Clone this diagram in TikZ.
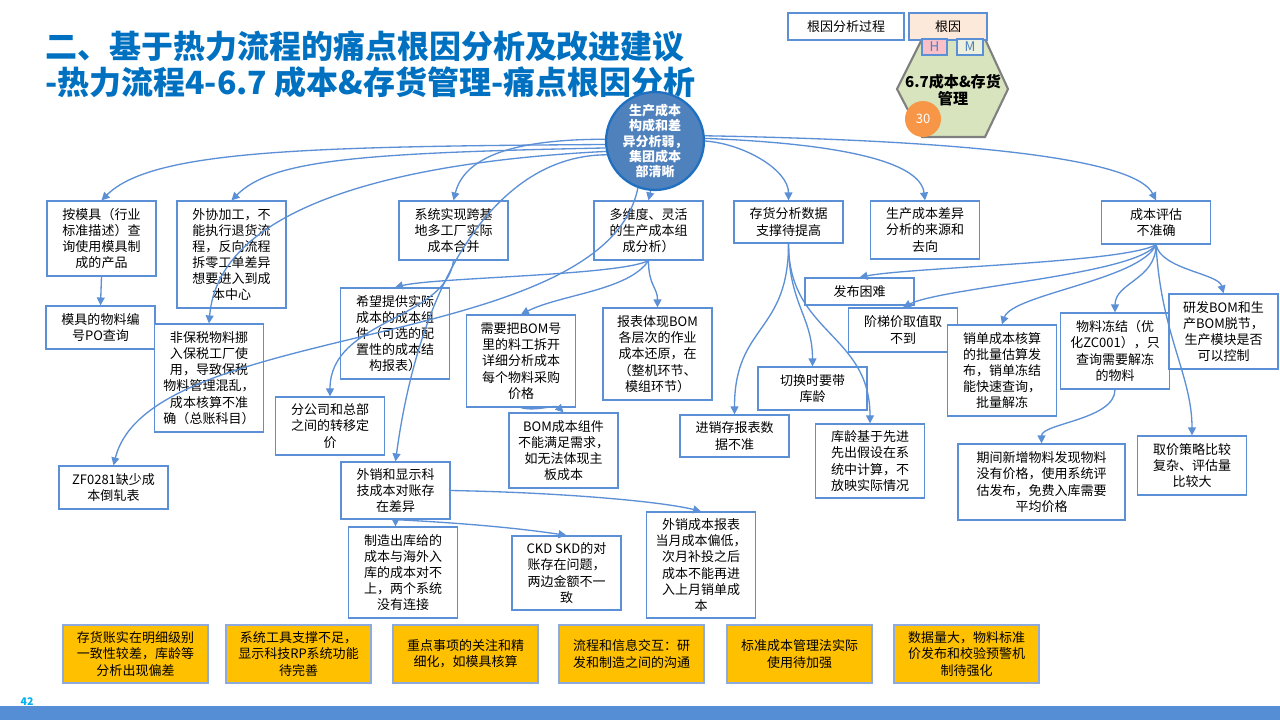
\documentclass[tikz,border=0pt]{standalone}
\usepackage{fontspec}
\setmainfont{Noto Sans CJK SC}
\usepackage{xcolor}
\usepackage{tikz}
\usetikzlibrary{arrows.meta}

\definecolor{lineblue}{RGB}{91,143,214}
\definecolor{titleblue}{RGB}{0,112,192}
\definecolor{rootfill}{RGB}{79,129,189}
\definecolor{rootline}{RGB}{31,112,193}
\definecolor{hexfill}{RGB}{215,228,189}
\definecolor{hexline}{RGB}{128,128,128}
\definecolor{scoreorange}{RGB}{247,150,70}
\definecolor{peach}{RGB}{253,233,217}
\definecolor{hpink}{RGB}{250,192,202}
\definecolor{mgreen}{RGB}{235,241,222}
\definecolor{sumyellow}{RGB}{255,192,0}
\definecolor{sumline}{RGB}{142,169,219}
\definecolor{barblue}{RGB}{85,142,213}
\definecolor{pagecyan}{RGB}{0,176,240}
\newcommand{\boxfont}{\fontsize{7.4pt}{9.2pt}\selectfont}

\begin{document}
\begin{tikzpicture}[
    x=0.02cm, y=0.02cm,
    cause/.style  = {rectangle, draw=lineblue, line width=0.75pt, fill=white,
                     minimum width=2.18cm, inner sep=1pt, align=center, font=\boxfont},
    sumbox/.style = {cause, fill=sumyellow, draw=sumline, minimum width=2.9cm,
                     minimum height=1.16cm},
    legend/.style = {cause, minimum height=0.54cm},
    level/.style  = {rectangle, draw=lineblue, line width=0.6pt, inner sep=0pt,
                     minimum height=0.32cm, text=rootfill,
                     font=\fontsize{7.6pt}{8pt}\selectfont},
    rootc/.style  = {circle, draw=rootline, line width=1.3pt, fill=rootfill,
                     minimum size=1.9cm, inner sep=0pt, align=center, text=white,
                     font=\fontsize{7.4pt}{8.6pt}\selectfont\bfseries},
    titletext/.style = {align=left, inner sep=0pt, text=titleblue,
                     font=\fontsize{18.2pt}{20.5pt}\selectfont\bfseries},
    link/.style   = {draw=lineblue, line width=0.75pt,
                     -{Triangle[length=4.5pt,width=4.5pt]}},
]
\path[use as bounding box, fill=white] (0,0) rectangle (1280,-720);

\node[titletext, anchor=west] (title) at (45,-64)
    {二、基于热力流程的痛点根因分析及改进建议\\-热力流程4-6.7 成本\&存货管理-痛点根因分析};

\draw[draw=hexline, fill=hexfill, line width=1.2pt]
    (922,-39) -- (985,-39) -- (1008,-89) -- (985,-137) -- (922,-137) -- (897,-89) -- cycle;
\node[align=center, inner sep=0pt, font=\fontsize{8.6pt}{9.8pt}\selectfont\bfseries]
    (hexname) at (953,-90) {6.7成本\&存货\\管理};
\node[legend, minimum width=2.32cm] (legproc) at (846,-26.5) {根因分析过程};
\node[legend, minimum width=1.56cm, fill=peach] (legroot) at (948,-26.5) {根因};
\node[level, minimum width=0.5cm, fill=hpink] (legh) at (934.5,-47) {H};
\node[level, minimum width=0.52cm, fill=mgreen] (legm) at (970,-47) {M};
\node[circle, fill=scoreorange, minimum size=0.72cm, inner sep=0pt, text=white,
      font=\fontsize{7.4pt}{8pt}\selectfont] (score) at (923,-119) {30};

\node[rootc] (root) at (655,-141) {生产成本\\构成和差\\异分析弱，\\集团成本\\部清晰};

\node[cause, minimum height=1.5cm]  (mold)     at (101.5,-238.5) {按模具（行业\\标准描述）查\\询使用模具制\\成的产品};
\node[cause, minimum height=2.14cm] (outsrc)   at (231.5,-254.5) {外协加工，不\\能执行退货流\\程，反向流程\\拆零工单差异\\想要进入到成\\本中心};
\node[cause, minimum height=1.18cm] (merge)    at (453.5,-230.5) {系统实现跨基\\地多工厂实际\\成本合并};
\node[cause, minimum height=1.18cm] (multi)    at (648.5,-230.5) {多维度、灵活\\的生产成本组\\成分析）};
\node[cause, minimum height=0.84cm] (stock)    at (788.5,-222) {存货分析数据\\支撑待提高};
\node[cause, minimum height=1.16cm] (variance) at (925,-230) {生产成本差异\\分析的来源和\\去向};
\node[cause, minimum height=0.86cm] (estim)    at (1156,-222.5) {成本评估\\不准确};

\node[cause, minimum height=0.86cm] (moldpo)   at (100.5,-327.5) {模具的物料编\\号PO查询};
\node[cause, minimum height=2.16cm] (bonded)   at (209,-378) {非保税物料挪\\入保税工厂使\\用，导致保税\\物料管理混乱，\\成本核算不准\\确（总账科目）};
\node[cause, minimum height=1.82cm] (compo)    at (395,-333.5) {希望提供实际\\成本的成本组\\件（可选的配\\置性的成本结\\构报表）};
\node[cause, minimum height=1.16cm] (transfer) at (330,-426) {分公司和总部\\之间的转移定\\价};
\node[cause, minimum height=0.86cm] (zfrep)    at (113.5,-487.5) {ZF0281缺少成\\本倒轧表};
\node[cause, minimum height=1.14cm] (export)   at (395.5,-490.5) {外销和显示科\\技成本对账存\\在差异};
\node[cause, minimum height=1.84cm] (bomsplit) at (521,-361) {需要把BOM号\\里的料工拆开\\详细分析成本\\每个物料采购\\价格};
\node[cause, minimum height=1.84cm] (bomlevel) at (657.5,-354) {报表体现BOM\\各层次的作业\\成本还原，在\\（整机环节、\\模组环节）};
\node[cause, minimum height=1.5cm]  (bomcomp)  at (563.5,-450.5) {BOM成本组件\\不能满足需求，\\如无法体现主\\板成本};
\node[cause, minimum height=1.82cm] (outmfg)   at (403,-572.5) {制造出库给的\\成本与海外入\\库的成本对不\\上，两个系统\\没有连接};
\node[cause, minimum height=1.48cm] (ckd)      at (566.5,-573) {CKD SKD的对\\账存在问题，\\两边金额不一\\致};
\node[cause, minimum height=2.12cm] (expreport) at (701,-565) {外销成本报表\\当月成本偏低，\\次月补投之后\\成本不能再进\\入上月销单成\\本};
\node[cause, minimum height=0.84cm] (invrep)   at (734.5,-436) {进销存报表数\\据不准};
\node[cause, minimum height=0.86cm] (agetrans) at (812.5,-388.5) {切换时要带\\库龄};
\node[cause, minimum height=1.48cm] (agefifo)  at (870,-461) {库龄基于先进\\先出假设在系\\统中计算，不\\放映实际情况};
\node[cause, minimum height=0.54cm] (publish)  at (859.5,-291.5) {发布困难};
\node[cause, minimum height=0.88cm] (tier)     at (903,-330) {阶梯价取值取\\不到};
\node[cause, minimum height=1.82cm] (salesord) at (1002,-370.5) {销单成本核算\\的批量估算发\\布，销单冻结\\能快速查询，\\批量解冻};
\node[cause, minimum height=1.52cm] (freeze)   at (1115,-351) {物料冻结（优\\化ZC001），只\\查询需要解冻\\的物料};
\node[cause, minimum height=1.5cm]  (rdbom)    at (1223.5,-331.5) {研发BOM和生\\产BOM脱节，\\生产模块是否\\可以控制};
\node[cause, minimum height=1.52cm, minimum width=3.34cm] (newmat) at (1041.5,-482) {期间新增物料发现物料\\没有价格，使用系统评\\估发布，免费入库需要\\平均价格};
\node[cause, minimum height=1.18cm] (pricing)  at (1192,-465.5) {取价策略比较\\复杂、评估量\\比较大};

\node[sumbox] (sum1) at (135.5,-654) {存货账实在明细级别\\一致性较差，库龄等\\分析出现偏差};
\node[sumbox] (sum2) at (298.5,-654) {系统工具支撑不足，\\显示科技RP系统功能\\待完善};
\node[sumbox] (sum3) at (465.5,-654) {重点事项的关注和精\\细化，如模具核算};
\node[sumbox] (sum4) at (631.5,-654) {流程和信息交互：研\\发和制造之间的沟通};
\node[sumbox] (sum5) at (799.5,-654) {标准成本管理法实际\\使用待加强};
\node[sumbox] (sum6) at (966.5,-654) {数据量大，物料标准\\价发布和校验预警机\\制待强化};

\draw[link] (root.184) .. controls +(-300,-2) and +(50,50) .. (mold.north);
\draw[link] (root.188) .. controls +(-250,-5) and +(40,40) .. (outsrc.north);
\draw[link] (root.192) .. controls +(-200,-10) and +(10,120) .. (bonded.north);
\draw[link] (root.178) .. controls +(-100,0) and +(10,40) .. (merge.north);
\draw[link] (root.265) -- (multi.north);
\draw[link] (root.250) .. controls +(-34,-165) and +(36.5,146) .. (zfrep.north);
\draw[link] (root.196) .. controls +(-110,0) and +(24.5,182) .. (export.north);
\draw[link] (root.0) .. controls +(40,-3) and +(0,30) .. (stock.north);
\draw[link] (root.3) .. controls +(130,-5) and +(-5,40) .. (variance.north);
\draw[link] (root.6) .. controls +(280,-5) and +(-20,40) .. (estim.north);

\draw[link] (mold.south) -- (moldpo.north);
\draw[link] (merge.south) .. controls +(-8.5,-60) and +(0,77) .. (transfer.north);
\draw[link] (multi.south) .. controls +(-30,-15) and +(40,10) .. (compo.north);
\draw[link] (multi.south) .. controls +(-20,-30) and +(40,20) .. (bomsplit.north);
\draw[link] (multi.south) .. controls +(0,-25) and +(0,20) .. (bomlevel.north);
\draw[link] (bomsplit.south) .. controls +(15,-4) and +(-8,8) .. (bomcomp.north);
\draw[link] (export.south) -- (export.south |- outmfg.north);
\draw[link] (export.south) .. controls +(80,-4) and +(-40,6) .. (ckd.north);
\draw[link] (export.east) .. controls +(110,-2) and +(-40,10) .. (expreport.north);

\draw[link] (stock.south) .. controls +(0,-90) and +(0,90) .. (invrep.north);
\draw[link] (stock.south) .. controls +(0,-60) and +(0,50) .. (agetrans.north);
\draw[link] (stock.south) .. controls +(0,-90) and +(0,90) .. (agefifo.north);

\draw[link] (estim.south) .. controls +(-30,-18) and +(50,10) .. (publish.north);
\draw[link] (estim.south) .. controls +(-20,-30) and +(40,20) .. (tier.north);
\draw[link] (estim.south) .. controls +(-15,-35) and +(10,30) .. (salesord.north);
\draw[link] (estim.south) .. controls +(0,-35) and +(0,30) .. (freeze.north);
\draw[link] (estim.south) .. controls +(5,-25) and +(-5,20) .. (rdbom.north);
\draw[link] (estim.south) .. controls +(5,-90) and +(0,60) .. (pricing.north);
\draw[link] (freeze.south) .. controls +(0,-30) and +(0,20) .. (newmat.north);

\node[text=pagecyan, inner sep=0pt, font=\fontsize{6pt}{7pt}\selectfont\bfseries] (pgnum) at (27,-702) {42};
\fill[barblue] (0,-706) rectangle (1280,-720);
\end{tikzpicture}
\end{document}
